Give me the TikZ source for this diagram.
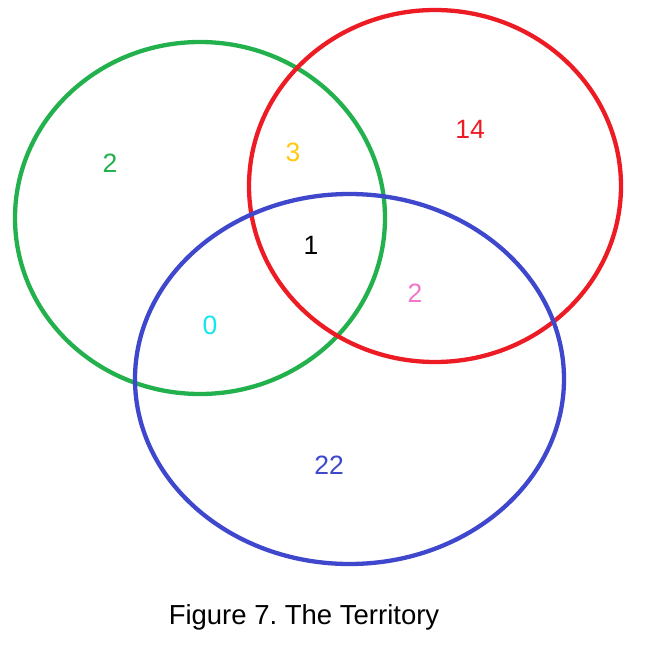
\documentclass[tikz,border=0pt]{standalone}
\usepackage{fontspec}
\setmainfont{Liberation Sans}
\frenchspacing
\definecolor{vgreen}{RGB}{34,177,76}
\definecolor{vred}{RGB}{237,28,36}
\definecolor{vblue}{RGB}{63,72,204}
\definecolor{vgold}{RGB}{255,201,14}
\definecolor{vpink}{RGB}{240,120,200}
\definecolor{vcyan}{RGB}{20,230,235}
\begin{document}
\begin{tikzpicture}[x=1pt,y=-1pt,
  ring/.style={line width=4.3pt},
  num/.style={font=\fontsize{26.5}{30}\selectfont, inner sep=0pt, anchor=center}]
\useasboundingbox (0,0) rectangle (666,666);
\fill[white] (0,0) rectangle (666,666);
\draw[ring, vgreen] (200,218) ellipse [x radius=185, y radius=176];
\draw[ring, vred] (435,186) ellipse [x radius=186, y radius=176];
\draw[ring, vblue] (349.5,379) ellipse [x radius=214.5, y radius=185];
\node[num, text=vgreen] (g) at (110,163) {2};
\node[num, text=vgold] (gr) at (293,152) {3};
\node[num, text=vred] (r) at (470,129) {14};
\node[num, text=black] (grb) at (311,245) {1};
\node[num, text=vpink] (rb) at (415,293) {2};
\node[num, text=vcyan] (gb) at (210,325) {0};
\node[num, text=vblue] (b) at (329,465) {22};
\node[font=\fontsize{27.5}{32}\selectfont, inner sep=0pt, anchor=center] (cap) at (304,617) {Figure 7. The Territory};
\end{tikzpicture}
\end{document}
